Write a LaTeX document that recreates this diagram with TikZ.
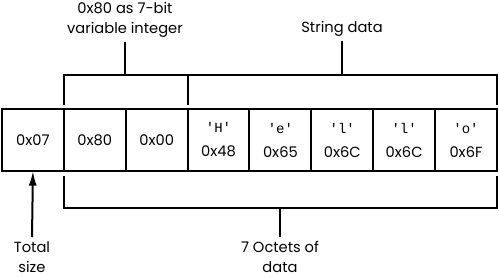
\documentclass[tikz,border=0pt]{standalone}
\usepackage{fontspec}
\setmainfont{Poppins}
\setmonofont{Liberation Mono}
\usetikzlibrary{positioning, arrows.meta}

\newcommand{\chr}[1]{{\fontsize{10.5}{10}\ttfamily'#1'}}

\begin{document}
\begin{tikzpicture}[x=0.75pt, y=-0.75pt,
    octet/.style={draw, line width=1.5pt, minimum width=46.4pt, minimum height=46.5pt,
      inner sep=0pt, outer sep=0pt, align=center, font=\fontsize{11}{18}\selectfont},
    bracket/.style={line width=1.5pt},
    caption/.style={align=center, inner sep=3pt, font=\fontsize{11}{15}\selectfont}]
  \useasboundingbox (0,0) rectangle (499,277);

  % Octets
  \node[octet, anchor=west] (size) at (2,140) {0x07};
  \node[octet, right=0pt of size] (vintA) {0x80};
  \node[octet, right=0pt of vintA] (vintB) {0x00};
  \node[octet, right=0pt of vintB] (chH) {\chr{H}\\0x48};
  \node[octet, right=0pt of chH] (che) {\chr{e}\\0x65};
  \node[octet, right=0pt of che] (chlA) {\chr{l}\\0x6C};
  \node[octet, right=0pt of chlA] (chlB) {\chr{l}\\0x6C};
  \node[octet, right=0pt of chlB] (cho) {\chr{o}\\0x6F};

  % Klammern oben
  \coordinate (topbar) at (0,75);
  \coordinate (topgap) at (0,105);
  \draw[bracket] (vintA.north west |- topgap) -- (vintA.north west |- topbar)
    -- (cho.north east |- topbar) -- (cho.north east |- topgap);
  \draw[bracket] (vintB.north east |- topbar) -- (vintB.north east |- topgap);
  \node[caption] (vintlabel) at (125,20) {0x80 as 7-bit\\variable integer};
  \node[caption] (strlabel) at (342,29) {String data};
  \draw[bracket] (vintlabel.south |- topbar) -- (vintlabel.south);
  \draw[bracket] (strlabel.south |- topbar) -- (strlabel.south);

  % Klammer unten
  \coordinate (botbar) at (0,208);
  \coordinate (botgap) at (0,176);
  \draw[bracket] (vintA.south west |- botgap) -- (vintA.south west |- botbar)
    -- (cho.south east |- botbar) -- (cho.south east |- botgap);
  \node[caption] (octlabel) at (280,257) {7 Octets of\\data};
  \draw[bracket] (octlabel.north |- botbar) -- (octlabel.north);

  % Groesse
  \node[caption] (sizelabel) at (32,257) {Total\\size};
  \draw[bracket, -{Latex[length=11pt, width=6pt]}] (sizelabel.north) -- (size.south);
\end{tikzpicture}
\end{document}
